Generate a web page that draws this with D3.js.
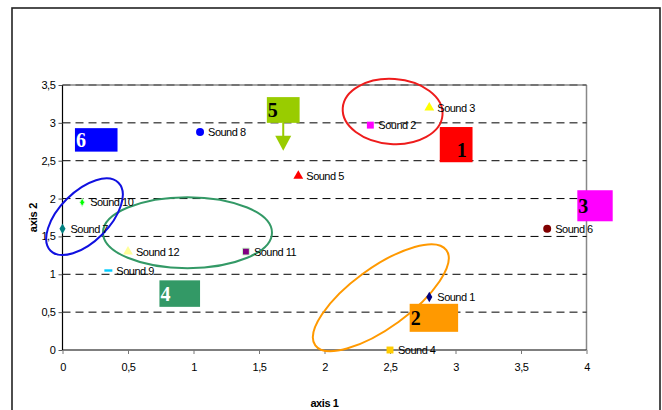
<!DOCTYPE html>
<html>
<head>
<meta charset="utf-8">
<script src="https://cdn.jsdelivr.net/npm/d3@7"></script>
<style>
  html, body { margin: 0; padding: 0; background: #fff; }
  svg { display: block; font-family: "Liberation Sans", Arial, sans-serif; }
</style>
</head>
<body>
<svg id="chart" width="662" height="410"></svg>
<script>
// Sound positions on the two axes
const soundNames = ["Sound 1", "Sound 2", "Sound 3", "Sound 4", "Sound 5", "Sound 6",
                    "Sound 7", "Sound 8", "Sound 9", "Sound 10", "Sound 11", "Sound 12"];
const axis1Values = [2.8, 2.35, 2.8, 2.5, 1.8, 3.7, 0.0, 1.05, 0.35, 0.15, 1.4, 0.5];
const axis2Values = [0.7, 2.97, 3.2, 0.0, 2.3, 1.6, 1.6, 2.88, 1.05, 1.95, 1.3, 1.3];
const markerShapes = ["diamond", "square", "triangle", "square", "triangle", "circle",
                      "diamond", "circle", "dash", "star", "square", "triangle"];
const markerColors = ["#000080", "#FF00FF", "#FFFF00", "#FFCC00", "#FF0000", "#800000",
                      "#008080", "#0000FF", "#00CCFF", "#00FF00", "#800080", "#FFFF99"];

const xTicks = [0, 0.5, 1, 1.5, 2, 2.5, 3, 3.5, 4];
const yTicks = [0, 0.5, 1, 1.5, 2, 2.5, 3, 3.5];
const xTitle = "axis 1";
const yTitle = "axis 2";

// Group annotations: numbered tags (data-space corners) and the ellipses around groups
const groupLabels = ["1", "2", "3", "4", "5", "6"];
const groupFills  = ["#FF0000", "#FF9900", "#FF00FF", "#339966", "#99CC00", "#0000FF"];
const groupTextColors = ["#000", "#000", "#000", "#fff", "#000", "#fff"];
const groupBoxes = [
  [2.88, 3.13, 2.48, 2.945],
  [2.65, 3.02, 0.24, 0.61],
  [3.93, 4.20, 1.70, 2.11],
  [0.74, 1.05, 0.57, 0.92],
  [1.56, 1.81, 3.00, 3.34],
  [0.095, 0.42, 2.62, 2.93]
];
const ellipseCenters = [[2.52, 3.15], [2.43, 0.69], [0.954, 1.55], [0.168, 1.76]];
const ellipseColors = ["#EE1C1C", "#FF9900", "#339966", "#1010E0"];
const ellipseShape = [ // rx, ry in px, rotation in degrees
  [50, 32.5, 4], [81, 30, -36], [84.5, 35.5, 0], [48, 25, -45]
];

const svg = d3.select("#chart");

// outer frame
svg.append("rect")
  .attr("x", 12).attr("y", 8).attr("width", 648).attr("height", 420)
  .attr("fill", "none").attr("stroke", "#222").attr("stroke-width", 1.6);

const x = d3.scaleLinear().domain([0, 4]).range([62.5, 586.5]);
const y = d3.scaleLinear().domain([0, 3.5]).range([350, 85]);

// plot frame: gray top and right edges
svg.append("line").attr("x1", x(0)).attr("x2", x(4)).attr("y1", y(3.5)).attr("y2", y(3.5))
  .attr("stroke", "#888").attr("stroke-width", 1.5);
svg.append("line").attr("x1", x(4)).attr("x2", x(4)).attr("y1", y(3.5)).attr("y2", y(0))
  .attr("stroke", "#888").attr("stroke-width", 1.5);

// dashed gridlines
svg.append("g").selectAll("line").data(yTicks.filter(d => d > 0)).join("line")
  .attr("x1", x(0)).attr("x2", x(4))
  .attr("y1", d => y(d)).attr("y2", d => y(d))
  .attr("stroke", d => d === 3.5 ? "#444" : "#000")
  .attr("stroke-width", 1)
  .attr("stroke-dasharray", "8,5");

// axes
const xAxis = svg.append("g").attr("transform", `translate(0,${y(0)})`)
  .call(d3.axisBottom(x).tickValues(xTicks).tickSize(4).tickPadding(9)
    .tickFormat(d => String(d).replace(".", ",")));
xAxis.select(".domain").attr("stroke", "#000").attr("stroke-width", 1.2).attr("d", `M${x(0)},0H${x(4)}`);
xAxis.selectAll(".tick line").attr("stroke", "#777");
xAxis.selectAll("text").attr("font-size", 11).attr("fill", "#000").style("letter-spacing", "-0.4px")
  .attr("font-family", "Liberation Sans, Arial, sans-serif");

const yAxis = svg.append("g").attr("transform", `translate(${x(0)},0)`)
  .call(d3.axisLeft(y).tickValues(yTicks).tickSize(4).tickPadding(3)
    .tickFormat(d => String(d).replace(".", ",")));
yAxis.select(".domain").attr("stroke", "#000").attr("stroke-width", 1.2).attr("d", `M0,${y(3.5)}V${y(0)}`);
yAxis.selectAll(".tick line").attr("stroke", "#555");
yAxis.selectAll("text").attr("font-size", 11).attr("fill", "#000").style("letter-spacing", "-0.4px")
  .attr("font-family", "Liberation Sans, Arial, sans-serif");

// axis titles
svg.append("text").attr("x", (x(0) + x(4)) / 2).attr("y", 407)
  .attr("text-anchor", "middle").attr("font-size", 11).attr("font-weight", "bold")
  .style("letter-spacing", "-0.4px").text(xTitle);
svg.append("text").attr("transform", `translate(37,${(y(0) + y(3.5)) / 2}) rotate(-90)`)
  .attr("text-anchor", "middle").attr("font-size", 11).attr("font-weight", "bold")
  .style("letter-spacing", "-0.2px").text(yTitle);

// group ellipses
svg.append("g").selectAll("ellipse").data(ellipseCenters).join("ellipse")
  .attr("transform", (d, i) => `translate(${x(d[0])},${y(d[1])}) rotate(${ellipseShape[i][2]})`)
  .attr("rx", (d, i) => ellipseShape[i][0])
  .attr("ry", (d, i) => ellipseShape[i][1])
  .attr("fill", "none")
  .attr("stroke", (d, i) => ellipseColors[i])
  .attr("stroke-width", 2);

// markers
const symbolFor = {
  diamond: d3.symbol().type(d3.symbolDiamond).size(32),
  square: d3.symbol().type(d3.symbolSquare).size(48),
  triangle: d3.symbol().type(d3.symbolTriangle).size(42),
  circle: d3.symbol().type(d3.symbolCircle).size(50),
  star: d3.symbol().type(d3.symbolDiamond).size(20)
};
const points = soundNames.map((n, i) => ({
  name: n, vx: axis1Values[i], vy: axis2Values[i], shape: markerShapes[i], color: markerColors[i]
}));
const pg = svg.append("g").selectAll("g").data(points).join("g")
  .attr("transform", d => `translate(${x(d.vx)},${y(d.vy)})`);
pg.each(function(d) {
  const g = d3.select(this);
  if (d.shape === "dash") {
    g.append("rect").attr("x", -4).attr("y", -1.2).attr("width", 8).attr("height", 2.4).attr("fill", d.color);
  } else {
    g.append("path").attr("d", symbolFor[d.shape]()).attr("fill", d.color)
      .attr("stroke", d.name === "Sound 11" ? "#ccffcc" : (d.shape === "star" ? "#ccffcc" : "none"))
      .attr("stroke-width", 1);
  }
});
pg.append("text").attr("x", 8).attr("y", 4)
  .attr("font-size", 11).attr("fill", "#000").style("letter-spacing", "-0.5px")
  .text(d => d.name);

// numbered group tags
const tags = svg.append("g").selectAll("g").data(groupBoxes).join("g");
tags.append("rect")
  .attr("x", d => x(d[0])).attr("y", d => y(d[3]))
  .attr("width", d => x(d[1]) - x(d[0])).attr("height", d => y(d[2]) - y(d[3]))
  .attr("fill", (d, i) => groupFills[i]);
tags.append("text")
  .attr("x", (d, i) => i === 0 ? x(d[0]) + 17 : x(d[0]) + 1)
  .attr("y", (d, i) => i === 0 ? y(d[2]) - 5 : (y(d[2]) + y(d[3])) / 2 + 7)
  .attr("font-family", "Liberation Serif, Times New Roman, serif")
  .attr("font-weight", "bold").attr("font-size", 20)
  .attr("fill", (d, i) => groupTextColors[i])
  .text((d, i) => groupLabels[i]);

// arrow below tag 5
const b5 = groupBoxes[4];
const ax = x((b5[0] + b5[1]) / 2);
const arrowTip = 2.63;
svg.append("line").attr("x1", ax).attr("x2", ax).attr("y1", y(b5[2])).attr("y2", y(arrowTip) - 12)
  .attr("stroke", "#99CC00").attr("stroke-width", 2);
svg.append("path")
  .attr("d", `M${ax - 8},${y(arrowTip) - 15}L${ax + 8},${y(arrowTip) - 15}L${ax},${y(arrowTip)}Z`)
  .attr("fill", "#99CC00");
</script>
</body>
</html>
